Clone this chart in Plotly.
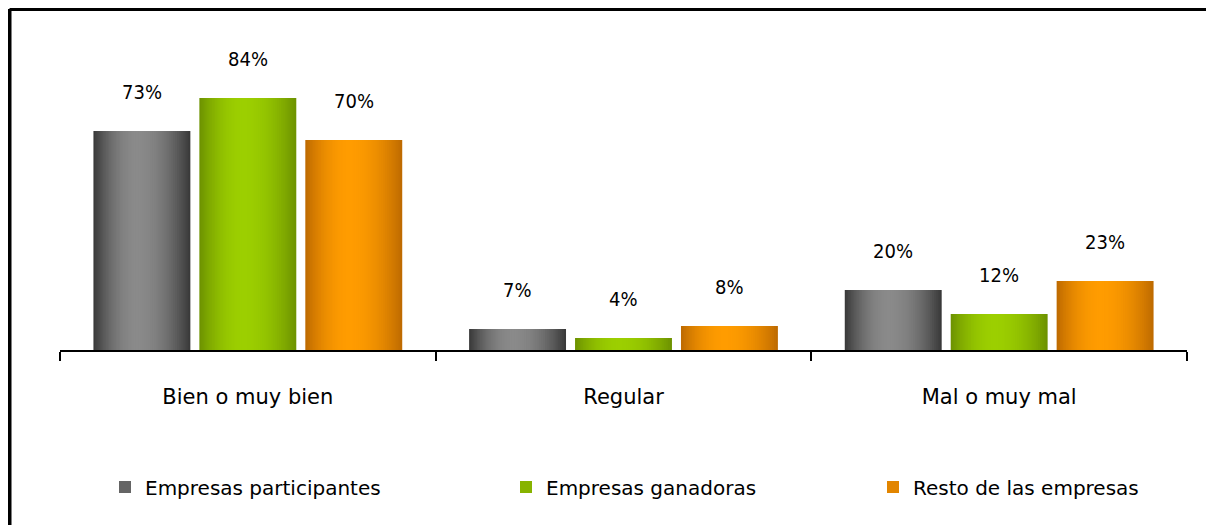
import plotly.graph_objects as go

# ---------------- data ----------------
categories = ["Bien o muy bien", "Regular", "Mal o muy mal"]
series_names = ["Empresas participantes", "Empresas ganadoras", "Resto de las empresas"]
participantes = [73, 7, 20]
ganadoras = [84, 4, 12]
resto = [70, 8, 23]
series_values = [participantes, ganadoras, resto]

# ---------------- style ----------------
PAGE = 8                      # browser body margin
SW, SH = 1214, 525            # screen size
W, H = SW, SH
ML, MT = 60 - PAGE, 20 - PAGE
PW, PH = 1127, 330
MR = W - ML - PW
MB = H - MT - PH
YMAX = 110

BAR_W = 0.258
SPACING = 0.282
PEAK = 0.45          # position of highlight within bar (fraction)
LEVELS = 28          # gradient steps

edge_colors = [(0x3a, 0x3a, 0x3a), (0x6e, 0x93, 0x00), (0xbf, 0x6b, 0x00)]
peak_colors = [(0x8a, 0x8a, 0x8a), (0x9c, 0xcf, 0x00), (0xff, 0x9c, 0x00)]
legend_text_x = [145, 546, 913]   # screen px where legend text starts

FONT = "DejaVu Sans"
LABEL_FONT = "DejaVu Sans Condensed"


def mix(c1, c2, t):
    return "rgb(%d,%d,%d)" % tuple(round(a + (b - a) * t) for a, b in zip(c1, c2))


def px_x(sx):   # screen x -> paper x
    return (sx - PAGE - ML) / PW


def px_y(sy):   # screen y -> paper y
    return (MT + PH - (sy - PAGE)) / PH


fig = go.Figure()
legend_names = ["legend", "legend2", "legend3"]

for j, (name, vals) in enumerate(zip(series_names, series_values)):
    center = (j - 1) * SPACING
    left0 = center - BAR_W / 2
    for k in range(LEVELS):
        s = k / LEVELS
        a = left0 + s * PEAK * BAR_W
        b = left0 + BAR_W - s * (1 - PEAK) * BAR_W
        g = 1 - (1 - s) ** 2
        fig.add_trace(go.Bar(
            x=categories, y=vals, offset=a, width=b - a,
            marker=dict(color=mix(edge_colors[j], peak_colors[j], g), line=dict(width=0)),
            name=name, legend=legend_names[j],
            showlegend=(k == LEVELS // 3), hoverinfo="skip",
        ))
    for i, v in enumerate(vals):
        fig.add_annotation(
            x=i + center, y=v, xref="x", yref="y", text=f"{v}%",
            showarrow=False, yshift=39,
            font=dict(family=LABEL_FONT, size=20, color="#000000"),
        )

# border lines (top and left) of the cropped chart frame
bx = px_x(9.5)
by = px_y(9)
fig.add_shape(type="line", xref="paper", yref="paper", x0=bx, x1=px_x(SW + 20),
              y0=by, y1=by, line=dict(color="#000000", width=4))
fig.add_shape(type="line", xref="paper", yref="paper", x0=bx, x1=bx,
              y0=by, y1=px_y(SH + 20), line=dict(color="#000000", width=4))

legend_common = dict(orientation="h", yanchor="middle", xanchor="left",
                     y=px_y(487), bgcolor="rgba(0,0,0,0)",
                     font=dict(family=FONT, size=20, color="#000000"))

fig.update_layout(
    width=W, height=H,
    margin=dict(l=ML, r=MR, t=MT, b=MB),
    paper_bgcolor="white", plot_bgcolor="white",
    barmode="overlay",
    font=dict(family=FONT, color="#000000"),
    xaxis=dict(type="category", range=[-0.5, 2.5], tickson="boundaries",
               ticks="outside", ticklen=9, tickwidth=2, tickcolor="#000000",
               showline=True, linewidth=2, linecolor="#000000", showgrid=False,
               tickfont=dict(family=FONT, size=21, color="#000000"),
               ticklabelstandoff=27, fixedrange=True),
    yaxis=dict(range=[0, YMAX], visible=False, showgrid=False, fixedrange=True),
    legend=dict(legend_common, x=px_x(legend_text_x[0] - 40)),
    legend2=dict(legend_common, x=px_x(legend_text_x[1] - 40)),
    legend3=dict(legend_common, x=px_x(legend_text_x[2] - 40)),
)

fig.write_html("out.html")
